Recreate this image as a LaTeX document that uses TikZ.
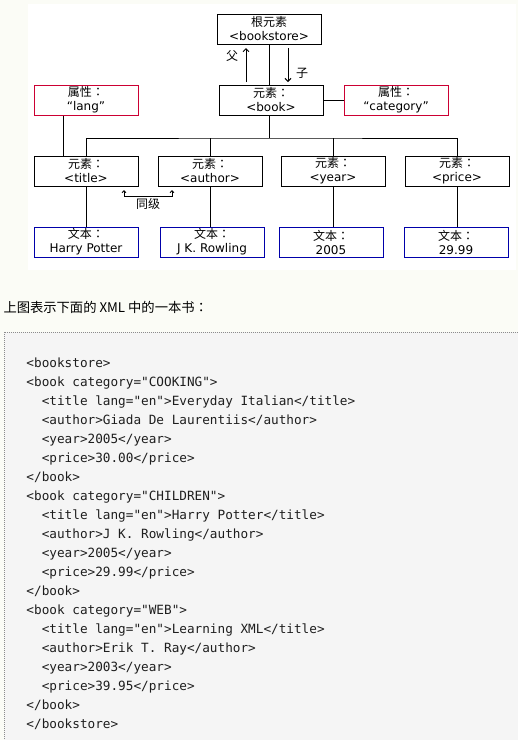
\documentclass[tikz,border=0pt]{standalone}
\usepackage{fontspec}
\setmainfont{DejaVu Sans}
\setmonofont{DejaVu Sans Mono}
\newfontfamily\cjk{Noto Sans CJK SC}
\newfontfamily\cjkjp{Noto Sans CJK JP}
\usetikzlibrary{arrows.meta,positioning}
\definecolor{RojoAttr}{RGB}{204,0,51}
\definecolor{AzulTexto}{RGB}{0,0,170}
\definecolor{FondoPagina}{RGB}{251,252,246}
\definecolor{FondoCodigo}{RGB}{245,245,245}
\definecolor{BordeCodigo}{RGB}{140,140,140}
\definecolor{TextoCodigo}{RGB}{30,30,30}
\newcommand{\ind}{\hphantom{xx}}
\newcommand{\dospuntos}{{\cjkjp ：}}

\begin{document}
\begin{tikzpicture}[x=1pt, y=-1pt, line width=1pt,
    >={Straight Barb[length=3pt,width=6pt]},
    box/.style={draw, minimum width=104pt, minimum height=30pt, inner sep=0pt,
        align=center, font=\fontsize{12}{14}\selectfont},
    attr/.style={box, draw=RojoAttr},
    texto/.style={box, draw=AzulTexto},
    etiq/.style={inner sep=0pt, font=\cjk\fontsize{12}{14}\selectfont}]
    % fondo
    \fill[FondoPagina] (0,0) rectangle (518,740);
    \useasboundingbox (0,0) rectangle (518,740);
    \fill[white] (28,4) rectangle (516,270);

    % arbol
    \node[box] (root) at (269,29) {{\cjk 根元素}\\<bookstore>};
    \node[box] (book) at (271,100) {{\cjk 元素}\dospuntos\\<book>};
    \node[attr] (lang) at (86,100) {{\cjk 属性}\dospuntos\\“lang”};
    \node[attr] (cat) at (396,100) {{\cjk 属性}\dospuntos\\“category”};

    \node[box] (title)  at (86,171)  {{\cjk 元素}\dospuntos\\<title>};
    \node[box] (author) at (210,171) {{\cjk 元素}\dospuntos\\<author>};
    \node[box] (year)   at (333,171) {{\cjk 元素}\dospuntos\\<year>};
    \node[box] (price)  at (457,171) {{\cjk 元素}\dospuntos\\<price>};

    \node[texto] (t1) at (86,242)  {{\cjk 文本}\dospuntos\\Harry Potter};
    \node[texto] (t2) at (212,242) {{\cjk 文本}\dospuntos\\J K. Rowling};
    \node[texto] (t3) at (331,242) {{\cjk 文本}\dospuntos\\2005};
    \node[texto] (t4) at (456,242) {{\cjk 文本}\dospuntos\\29.99};

    \coordinate (bus) at (269,138);
    \draw (root.south) -- (root.south |- book.north);
    \draw (book.south -| bus) -- (bus);
    \draw (title.north) |- (bus) -| (price.north);
    \draw (author.north) -- (author.north |- bus);
    \draw (year.north) -- (year.north |- bus);
    \draw (book.east) -- (cat.west);
    \draw ([xshift=-23pt]lang.south) -- ([xshift=-23pt]title.north);
    \draw (title.south) -- (title.south |- t1.north);
    \draw (author.south) -- (author.south |- t2.north);
    \draw (year.south) -- (year.south |- t3.north);
    \draw (price.south) -- (price.south |- t4.north);

    % padre / hijo / hermanos
    \coordinate (pA) at (246,82);
    \coordinate (pB) at (246,48);
    \coordinate (hA) at (288,48);
    \coordinate (hB) at (288,82);
    \draw[->] (pA) -- (pB);
    \draw[->] (hA) -- (hB);
    \node[etiq] (padre) at (232,56) {父};
    \node[etiq] (hijo) at (302,73) {子};

    \coordinate (sibL) at (124,190);
    \coordinate (sibR) at (172,190);
    \draw[<->, >={Straight Barb[length=2pt,width=4pt]}] (sibL) -- ++(0,6) -| (sibR);
    \node[etiq] (herm) at (148,204) {同级};

    % texto y codigo
    \node[anchor=west, inner sep=0pt, font=\cjk\fontsize{13.3}{15}\selectfont] (leyenda)
        at (3,307) {上图表示下面的 XML 中的一本书{\cjkjp ：}};

    \fill[FondoCodigo] (4,332) rectangle (518,740);
    \draw[BordeCodigo, dash pattern=on 1pt off 1pt] (518,332) -- (4,332) -- (4,740);

    \node[anchor=north west, inner sep=0pt, align=left, text=TextoCodigo,
        font=\ttfamily\fontsize{12.7}{19}\selectfont] (codigo) at (26,357) {%
        <bookstore>\\
        <book category="COOKING">\\
        \ind<title lang="en">Everyday Italian</title>\\
        \ind<author>Giada De Laurentiis</author>\\
        \ind<year>2005</year>\\
        \ind<price>30.00</price>\\
        </book>\\
        <book category="CHILDREN">\\
        \ind<title lang="en">Harry Potter</title>\\
        \ind<author>J K. Rowling</author>\\
        \ind<year>2005</year>\\
        \ind<price>29.99</price>\\
        </book>\\
        <book category="WEB">\\
        \ind<title lang="en">Learning XML</title>\\
        \ind<author>Erik T. Ray</author>\\
        \ind<year>2003</year>\\
        \ind<price>39.95</price>\\
        </book>\\
        </bookstore>};
\end{tikzpicture}
\end{document}
